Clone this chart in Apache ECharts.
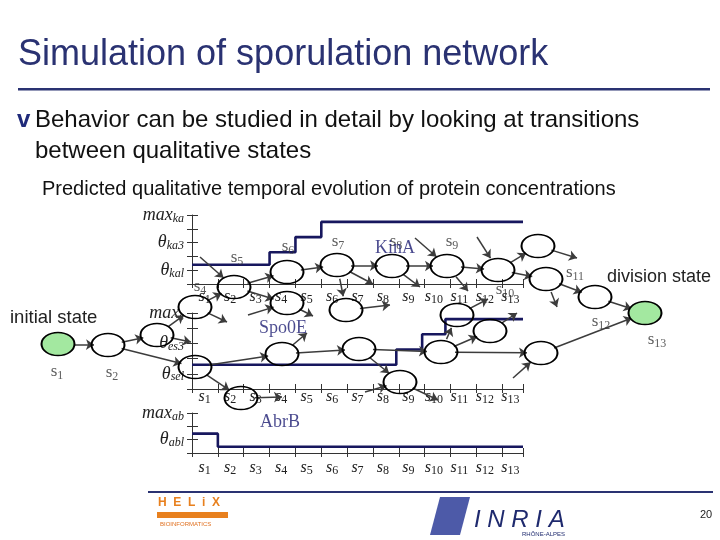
<!DOCTYPE html>
<html><head><meta charset="utf-8">
<script src="https://cdn.jsdelivr.net/npm/echarts@6/dist/echarts.min.js"></script>
<style>html,body{margin:0;padding:0;background:#fff}#c{width:720px;height:540px}</style>
</head><body><div id="c"></div>
<script>
// ---- data ----
const states = ['1','2','3','4','5','6','7','8','9','10','11','12','13'];
const kinaX = [0, 3, 4, 5, 12.8];
const kinaY = [1.4, 2.3, 3.4, 4.5, 4.5];
const spoX = [0, 7.9, 8.9, 9.8, 12.8];
const spoY = [1.6, 2.6, 3.6, 4.6, 4.6];
const abrX = [0, 1, 12.8];
const abrY = [1.45, 0.47, 0.47];
const kinaTickLabels = {5: ['max', 'ka'], 3: ['θ', 'ka3'], 1: ['θ', 'kal']};
const spoTickLabels = {5: ['max', 's'], 3: ['θ', 'es3'], 1: ['θ', 'sel']};
const abrTickLabels = {3: ['max', 'ab'], 1: ['θ', 'abl']};
// state transition graph (slide layout, px)
const nodeX = [58,108,157,195,195,234,287,337,392,447,498,538,546,595,645,287,346,457,490,541,441,359,400,282,241];
const nodeY = [344,345,335,307,367,287,272,265,266,266,270,246,279,297,313,303,310,315,331,353,352,349,382,354,398];
const greenNodes = [0, 14];
const openX = [191,227,313,373,420,468,577,557,307,282,438,488,517,390, 200,248,415,477,365,513];
const openY = [342,322,316,284,287,291,258,307,333,397,400,299,313,305, 257,315,238,237,392,378];
const openFrom = [2,3,15,7,8,9,11,12,23,24,22,17,18,16]; // node -> open end
const openTo = [5,15,9,10,22,19]; // open start -> node
const edges = [[0,1],[1,2],[1,4],[2,3],[3,5],[5,6],[5,15],[6,7],[7,8],[7,16],[8,9],[9,10],[10,11],[10,12],[12,13],[13,14],[19,14],[4,23],[4,24],[23,21],[21,22],[21,20],[20,17],[20,18],[20,19]];
const stateLabels = ['1','2','5','6','7','8','9','10','11','12','13','4'];
const stateLabelX = [57,112,237,288,338,396,452,505,575,601,657,200];
const stateLabelY = [372,373,258,247,242,242,242,290,273,322,340,287];
const chartNames = ['KinA','Spo0E','AbrB'];
const chartNameX = [395,283,280];
const chartNameY = [248,328,422];

// ---- build ----
const navy = '#17175e';
const serif = 'Liberation Serif';
const sRich = {
  s: {fontFamily: serif, fontStyle: 'italic', fontSize: 16, color: '#222'},
  sub: {fontFamily: serif, fontSize: 12, color: '#222', padding: [7,0,0,0], verticalAlign: 'bottom'}
};
const yRich = {
  m: {fontFamily: serif, fontStyle: 'italic', fontSize: 18, color: '#222'},
  sub: {fontFamily: serif, fontStyle: 'italic', fontSize: 12, color: '#222', padding: [7,0,0,0], verticalAlign: 'bottom'}
};
const grids = [
  {left: 192, top: 215, width: 331, height: 69},
  {left: 192, top: 313, width: 331, height: 76},
  {left: 192, top: 413, width: 331, height: 40},
  {left: 0, top: 0, width: 720, height: 540}
];
const yMax = [5, 5, 3];
const xLabelMargin = [3, -2, 5];
const yLabelMaps = [kinaTickLabels, spoTickLabels, abrTickLabels];
const xAxis = [], yAxis = [];
const axisColor = '#333';
for (let i = 0; i < 3; i++) {
  xAxis.push({type: 'value', gridIndex: i, position: 'bottom', min: 0, max: 12.8, interval: 1,
    axisLine: {show: true, lineStyle: {color: axisColor, width: 1}},
    axisTick: {show: true, inside: true, length: 5, lineStyle: {color: axisColor}},
    axisLabel: {show: false}, splitLine: {show: false}});
  xAxis.push({type: 'value', gridIndex: i, position: 'bottom', min: 0, max: 12.8, interval: 1,
    axisLine: {show: false},
    axisTick: {show: true, inside: false, length: 4, lineStyle: {color: axisColor}},
    axisLabel: {show: false}, splitLine: {show: false}});
  xAxis.push({type: 'category', gridIndex: i, position: 'bottom', data: states, boundaryGap: true,
    axisLine: {show: false}, axisTick: {show: false},
    axisLabel: {margin: xLabelMargin[i], interval: 0, formatter: v => '{s|s}{sub|' + v + '}', rich: sRich}});
  const map = yLabelMaps[i];
  yAxis.push({type: 'value', gridIndex: i, position: 'left', min: 0, max: yMax[i], interval: 1,
    axisLine: {show: true, lineStyle: {color: axisColor, width: 1}},
    axisTick: {show: true, inside: true, length: 6, lineStyle: {color: axisColor}},
    splitLine: {show: false},
    axisLabel: {margin: 8, formatter: v => map[v] ? '{m|' + map[v][0] + '}{sub|' + map[v][1] + '}' : '', rich: yRich}});
  yAxis.push({type: 'value', gridIndex: i, position: 'left', min: 0, max: yMax[i], interval: 1,
    axisLine: {show: false},
    axisTick: {show: true, inside: false, length: 5, lineStyle: {color: axisColor}},
    splitLine: {show: false}, axisLabel: {show: false}});
}
xAxis.push({type: 'value', gridIndex: 3, min: 0, max: 720, show: false});
yAxis.push({type: 'value', gridIndex: 3, min: 0, max: 540, inverse: true, show: false});

function stepData(xs, ys) { return xs.map((x, k) => [x, ys[k]]); }
const stepSeries = [[kinaX, kinaY], [spoX, spoY], [abrX, abrY]].map((d, i) => ({
  type: 'line', xAxisIndex: i * 3, yAxisIndex: i * 2, step: 'end', data: stepData(d[0], d[1]),
  showSymbol: false, symbol: 'none', lineStyle: {color: navy, width: 2.6}, z: 3, animation: false
}));

const gNodes = [];
nodeX.forEach((x, k) => {
  const green = greenNodes.includes(k);
  gNodes.push({value: [x, nodeY[k]], symbol: 'circle', symbolSize: [33, 23],
    itemStyle: {color: green ? '#a3e8a0' : 'rgba(255,255,255,0)', borderColor: '#000', borderWidth: 1.7}});
});
const base = nodeX.length;
openX.forEach((x, k) => {
  gNodes.push({value: [x, openY[k]], symbol: 'none', symbolSize: 0});
});
const gLinks = edges.map(e => ({source: e[0], target: e[1]}));
openFrom.forEach((n, k) => gLinks.push({source: n, target: base + k}));
openTo.forEach((n, k) => gLinks.push({source: base + openFrom.length + k, target: n}));

const graphSeries = {
  type: 'graph', coordinateSystem: 'cartesian2d', xAxisIndex: 9, yAxisIndex: 6,
  data: gNodes, links: gLinks,
  edgeSymbol: ['circle', 'arrow'], edgeSymbolSize: [0.01, 8],
  lineStyle: {color: '#3c3c3c', width: 1.5, opacity: 1, curveness: 0},
  label: {show: false}, z: 5, animation: false, silent: true
};

const labelSeries = {
  type: 'scatter', xAxisIndex: 9, yAxisIndex: 6, symbolSize: 0, z: 6, animation: false, silent: true,
  data: stateLabels.map((t, k) => ({value: [stateLabelX[k], stateLabelY[k]], name: t})),
  label: {show: true, position: 'inside', formatter: p => '{s|s}{sub|' + p.name + '}',
    rich: {s: {fontFamily: serif, fontSize: 17, color: '#333'},
           sub: {fontFamily: serif, fontSize: 12, color: '#333', padding: [7,0,0,0], verticalAlign: 'bottom'}}}
};
const nameSeries = {
  type: 'scatter', xAxisIndex: 9, yAxisIndex: 6, symbolSize: 0, z: 6, animation: false, silent: true,
  data: chartNames.map((t, k) => ({value: [chartNameX[k], chartNameY[k]], name: t})),
  label: {show: true, position: 'inside', formatter: p => p.name, fontFamily: serif, fontSize: 18, color: '#1c1c72'}
};

const T = (x, y, text, style) => ({type: 'text', left: x, top: y, style: Object.assign({text: text, fontFamily: 'Liberation Sans', fill: '#111'}, style)});
const graphic = [
  T(18, 37, 'Simulation of sporulation network', {fontSize: 36, fill: '#2a3272'}),
  {type: 'rect', shape: {x: 18, y: 88, width: 692, height: 2.5}, style: {fill: '#2a3272'}},
  T(17, 108, 'v', {fontSize: 24, fontWeight: 'bold', fill: '#1f2a7a'}),
  T(35, 108, 'Behavior can be studied in detail by looking at transitions', {fontSize: 24}),
  T(35, 139, 'between qualitative states', {fontSize: 24}),
  T(42, 179, 'Predicted qualitative temporal evolution of protein concentrations', {fontSize: 20}),
  T(10, 308, 'initial state', {fontSize: 18.5, fill: '#222'}),
  T(607, 268, 'division state', {fontSize: 18, fill: '#222'}),
  {type: 'rect', shape: {x: 148, y: 491, width: 565, height: 2}, style: {fill: '#2a3272'}},
  T(158, 497, 'H  E  L  i  X', {fontSize: 12, fontWeight: 'bold', fill: '#e8801e'}),
  {type: 'rect', shape: {x: 157, y: 512, width: 71, height: 6}, style: {fill: '#e8801e'}},
  T(160, 521, 'BIOINFORMATICS', {fontSize: 6, fill: '#e07020'}),
  {type: 'polygon', shape: {points: [[440,497],[470,497],[460,535],[430,535]]}, style: {fill: '#4d5aa8'}},
  T(474, 508, 'I N R I A', {fontSize: 24, fontStyle: 'italic', fill: '#1f2a6e', fontFamily: 'Liberation Sans'}),
  T(522, 531, 'RHÔNE-ALPES', {fontSize: 6, fill: '#1f2a6e'}),
  T(700, 509, '20', {fontSize: 11, fill: '#222'})
];

const chart = echarts.init(document.getElementById('c'), null, {renderer: 'canvas'});
chart.setOption({
  backgroundColor: '#fff', animation: false,
  grid: grids, xAxis: xAxis, yAxis: yAxis,
  series: stepSeries.concat([graphSeries, labelSeries, nameSeries]),
  graphic: graphic
});
</script></body></html>
